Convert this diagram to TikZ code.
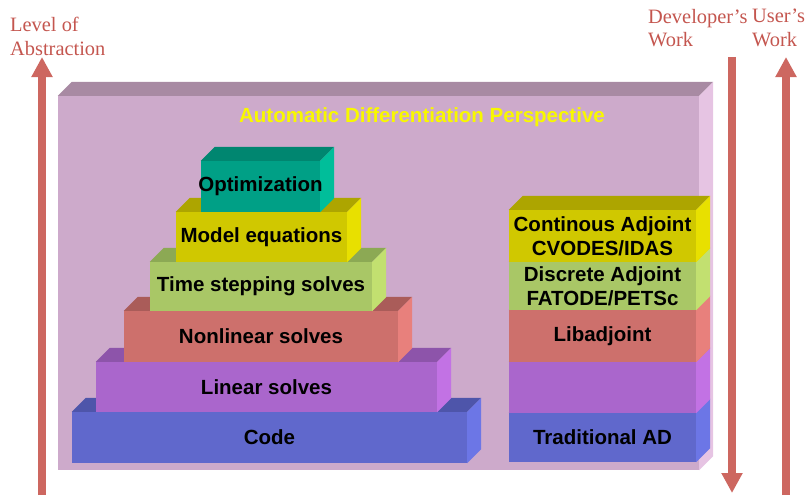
\documentclass[tikz,border=0pt]{standalone}
\usepackage{fontspec}
\setmainfont{Liberation Serif}
\setsansfont{Liberation Sans}
\usetikzlibrary{arrows.meta}

\definecolor{arrowred}{HTML}{CD6760}
\definecolor{labelred}{HTML}{C4564F}
\definecolor{titleyellow}{HTML}{F8F800}
% front / top / side of every slab
\definecolor{backF}{HTML}{CDAACB}\definecolor{backT}{HTML}{A88AA3}\definecolor{backS}{HTML}{E6C4E3}
\definecolor{codeF}{HTML}{6068CC}\definecolor{codeT}{HTML}{4E55AA}\definecolor{codeS}{HTML}{6C76E6}
\definecolor{linF}{HTML}{AA66CC}\definecolor{linT}{HTML}{8D54AA}\definecolor{linS}{HTML}{C272E4}
\definecolor{nonF}{HTML}{CD706C}\definecolor{nonT}{HTML}{AA5C59}\definecolor{nonS}{HTML}{E8807C}
\definecolor{timeF}{HTML}{A9C766}\definecolor{timeT}{HTML}{8CA954}\definecolor{timeS}{HTML}{C2E070}
\definecolor{modelF}{HTML}{D0C800}\definecolor{modelT}{HTML}{ADA500}\definecolor{modelS}{HTML}{E8E000}
\definecolor{optF}{HTML}{00A086}\definecolor{optT}{HTML}{008670}\definecolor{optS}{HTML}{00BE9A}

\tikzset{
  slab/.style={inner sep=0pt, align=center, text=black,
    font=\sffamily\bfseries\fontsize{20.5}{24}\selectfont},
  worklabel/.style={inner sep=0pt, align=left, text=labelred,
    font=\fontsize{20.4}{23.5}\selectfont},
  workarrow/.style={draw=arrowred, line width=8pt,
    -{Triangle[width=20pt,length=20pt]}}
}

\newcommand{\slabdepth}{14}
% #1 name, #2 centre, #3 width, #4 height, #5 colour prefix, #6 text
\newcommand{\slab}[6]{%
  \node[slab, fill=#5F, minimum width=#3pt, minimum height=#4pt] (#1) at (#2) {};
  \fill[#5T] (#1.north west) -- ([shift={(\slabdepth,-\slabdepth)}]#1.north west)
    -- ([shift={(\slabdepth,-\slabdepth)}]#1.north east) -- (#1.north east) -- cycle;
  \fill[#5S] (#1.north east) -- ([shift={(\slabdepth,-\slabdepth)}]#1.north east)
    -- ([shift={(\slabdepth,-\slabdepth)}]#1.south east) -- (#1.south east) -- cycle;
  \node[slab] (#1 text) at (#1.center) {#6};
}

\begin{document}
\begin{tikzpicture}[x=1pt,y=-1pt]
\useasboundingbox (0,0) rectangle (808,495);

% perspective box
\slab{back}{378.5,283}{641}{374}{back}{}
\node[slab, text=titleyellow] (title) at (422,117) {Automatic Differentiation Perspective};

% left pyramid
\slab{code}{269.5,437.5}{395}{51}{code}{Code}
\slab{lin}{266.5,387}{341}{50}{lin}{Linear solves}
\slab{nonlin}{261,336.5}{274}{51}{non}{Nonlinear solves}
\slab{time}{261,286.5}{222}{49}{time}{Time stepping solves}
\slab{model}{261.5,237}{171}{50}{model}{Model equations}
\slab{opt}{260.5,186.5}{119}{51}{opt}{Optimization}

% right stack
\slab{trad}{602.5,437.5}{187}{49}{code}{Traditional AD}
\slab{blank}{602.5,387.5}{187}{51}{lin}{}
\slab{libadj}{602.5,336}{187}{52}{non}{Libadjoint}
\slab{disc}{602.5,286}{187}{48}{time}{Discrete Adjoint\\FATODE/PETSc}
\slab{cont}{602.5,236}{187}{52}{model}{Continous Adjoint\\CVODES/IDAS}

% arrows and their labels
\node[worklabel, anchor=north west] (abstr) at (10,17) {Level of\\Abstraction};
\node[worklabel, anchor=north west] (dev) at (648,9) {Developer’s\\Work};
\node[worklabel, anchor=north west] (usr) at (752,9) {User’s\\Work};

\coordinate (absFoot) at (42,495);
\coordinate (absHead) at (42,57);
\coordinate (devTop) at (732,57);
\coordinate (devFoot) at (732,493);
\coordinate (usrFoot) at (786,495);
\coordinate (usrHead) at (786,57);
\draw[workarrow] (absFoot) -- (absHead);
\draw[workarrow] (devTop) -- (devFoot);
\draw[workarrow] (usrFoot) -- (usrHead);
\end{tikzpicture}
\end{document}
